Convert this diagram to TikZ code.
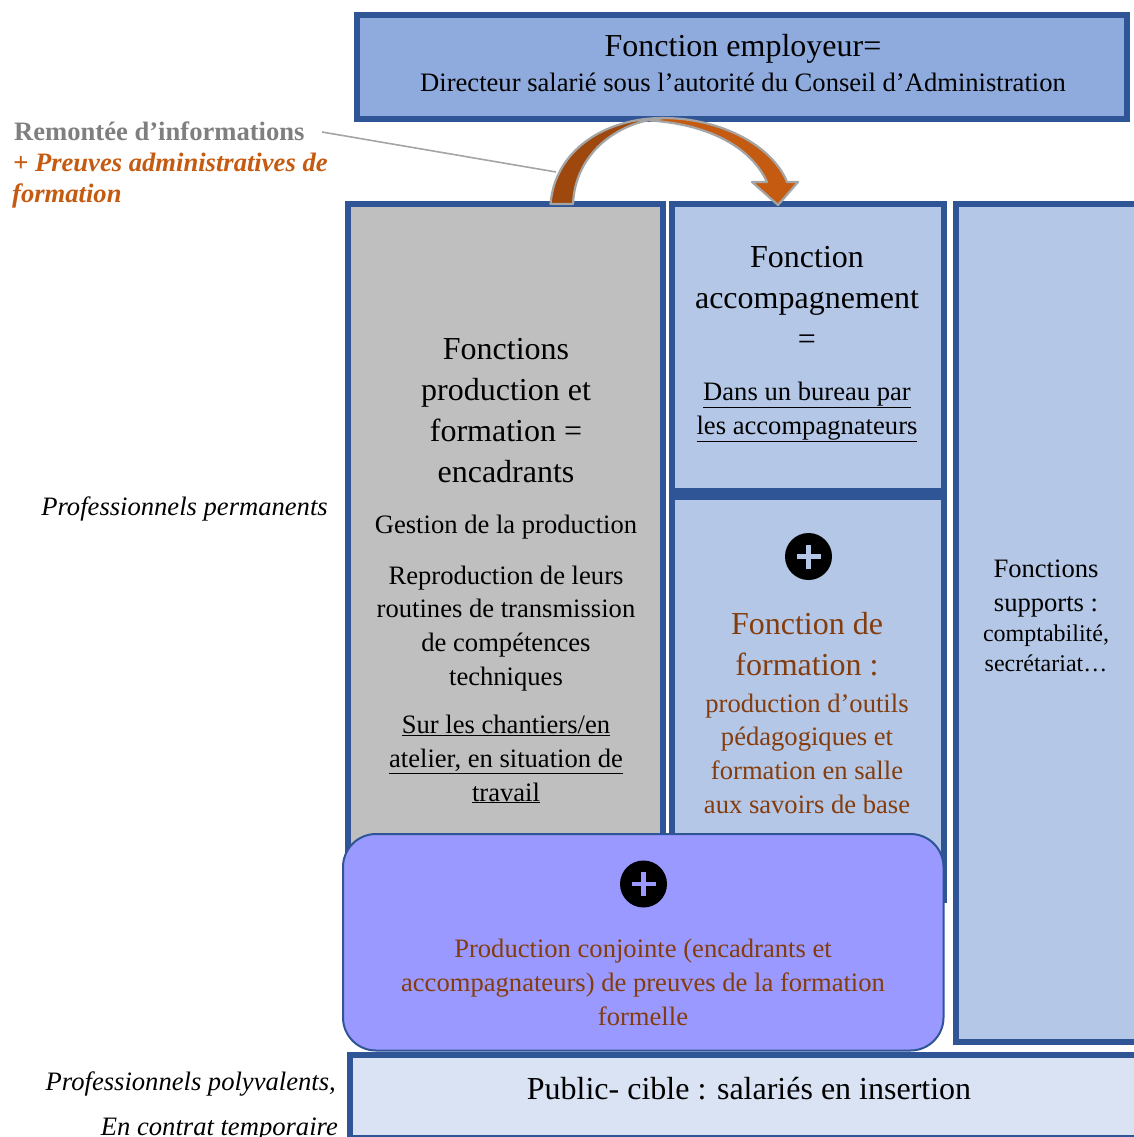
\documentclass[tikz,border=0pt]{standalone}
\usepackage{fontspec}
\setmainfont{Liberation Serif}

\definecolor{boxblue}{HTML}{2F5597}
\definecolor{topfill}{HTML}{8FAADC}
\definecolor{lightfill}{HTML}{B4C7E7}
\definecolor{publicfill}{HTML}{DAE3F3}
\definecolor{grayfill}{HTML}{BFBFBF}
\definecolor{jointfill}{HTML}{9999FF}
\definecolor{brownink}{HTML}{843C0C}
\definecolor{orangeink}{HTML}{C55A11}
\definecolor{darkorange}{HTML}{9E480E}
\definecolor{arrowline}{HTML}{A5A5A5}
\definecolor{grayink}{HTML}{7F7F7F}

\tikzset{
  panel/.style={draw=boxblue,line width=6pt},
  bigtext/.style={anchor=base,align=center,inner sep=0pt,font=\fontsize{32}{41}\selectfont},
  midtext/.style={anchor=base,align=center,inner sep=0pt,font=\fontsize{26.6}{33.6}\selectfont},
  smalltext/.style={anchor=base,align=center,inner sep=0pt,font=\fontsize{24}{30}\selectfont},
  sidetext/.style={anchor=base east,inner sep=0pt,font=\fontsize{26.6}{33}\selectfont\itshape},
  plusdisc/.style={circle,fill=black,inner sep=0pt,minimum size=47pt},
  plusarm/.style={line width=4.6pt},
  curveedge/.style={draw=arrowline,line width=2.2pt,line join=round}
}

\begin{document}
\begin{tikzpicture}[x=1pt,y=-1pt]
\useasboundingbox (0,0) rectangle (1134,1137);

% panels
\filldraw [panel,fill=grayfill] (348,204) rectangle (663,880);
\filldraw [panel,fill=lightfill] (672,204) rectangle (943.5,490.5);
\filldraw [panel,fill=lightfill] (672,497) rectangle (943.5,900);
\filldraw [panel,fill=lightfill] (956,204) rectangle (1145,1042);
\filldraw [panel,fill=topfill] (357,15) rectangle (1127,119);
\filldraw [panel,fill=publicfill] (350,1055) rectangle (1145,1138);
\filldraw [draw=boxblue,line width=2pt,fill=jointfill,rounded corners=33pt] (343,834) rectangle (943.5,1050.5);

% curved arrow
\filldraw [curveedge,fill=orangeink] (663,118) .. controls (720,118) and (772,145) .. (787,182)
  -- (798,182) -- (778,205) -- (752,182) -- (767,182)
  .. controls (750,145) and (705,124) .. (650,120.5) -- cycle;
\filldraw [curveedge,fill=darkorange] (550.5,204) .. controls (555,150) and (605,118) .. (663,118)
  .. controls (615,122) and (575,155) .. (573,204) -- cycle;

% leader
\coordinate (leadstart) at (322,132);
\coordinate (leadend) at (556,172);
\draw [arrowline,line width=1.6pt] (leadstart)--(leadend);

% top
\node [bigtext] (employeur) at (743,57) {Fonction employeur=};
\node [midtext] (directeur) at (743,92) {Directeur salarié sous l’autorité du Conseil d’Administration};

% production
\node [bigtext] (prodtitle) at (506,482) {Fonctions\\production et\\formation =\\encadrants};
\node [midtext] (prodgestion) at (506,533) {Gestion de la production};
\node [midtext] (prodroutines) at (506,685) {Reproduction de leurs\\routines de transmission\\de compétences\\techniques};
\node [midtext] (prodlieu) at (506,801) {\underline{Sur les chantiers/en}\\\underline{atelier, en situation de}\\\underline{travail}};

% accompagnement
\node [bigtext] (acctitle) at (807,349) {Fonction\\accompagnement\\=};
\node [midtext] (acclieu) at (807,434) {\underline{Dans un bureau par}\\\underline{les accompagnateurs}};

% formation
\node [plusdisc] (plusform) at (808.5,556.5) {};
\draw [plusarm,lightfill] ([xshift=-12pt]plusform.center)--([xshift=12pt]plusform.center);
\draw [plusarm,lightfill] ([yshift=-12pt]plusform.center)--([yshift=12pt]plusform.center);
\node [bigtext,text=brownink] (formtitle) at (807,675) {Fonction de\\formation :};
\node [midtext,text=brownink] (formtext) at (807,813) {production d’outils\\pédagogiques et\\formation en salle\\aux savoirs de base};

% supports
\node [midtext] (supptitle) at (1046,611) {Fonctions\\supports :};
\node [smalltext] (supptext) at (1046,671) {comptabilité,\\secrétariat…};

% joint
\node [plusdisc] (plusjoint) at (643.5,884) {};
\draw [plusarm,jointfill] ([xshift=-12pt]plusjoint.center)--([xshift=12pt]plusjoint.center);
\draw [plusarm,jointfill] ([yshift=-12pt]plusjoint.center)--([yshift=12pt]plusjoint.center);
\node [midtext,text=brownink] (jointtext) at (643,1025) {Production conjointe (encadrants et\\accompagnateurs) de preuves de la formation\\formelle};

% public
\node [bigtext] (publiccible) at (749,1099) {Public- cible : salariés en insertion};

% side labels
\node [anchor=base west,inner sep=0pt,text=grayink,font=\fontsize{26.6}{33}\selectfont\bfseries] (remontee) at (14,140) {Remontée d’informations};
\node [anchor=base west,inner sep=0pt,text=orangeink,font=\fontsize{26.6}{33}\selectfont\bfseries\itshape] (preuves) at (13,171) {+ Preuves administratives de};
\node [anchor=base west,inner sep=0pt,text=orangeink,font=\fontsize{26.6}{33}\selectfont\bfseries\itshape] (preuvesb) at (12,202) {formation};
\node [sidetext] (permanents) at (328,515) {Professionnels permanents};
\node [sidetext] (polyvalents) at (336,1090) {Professionnels polyvalents,};
\node [sidetext] (temporaire) at (338,1135) {En contrat temporaire};

\end{tikzpicture}
\end{document}
